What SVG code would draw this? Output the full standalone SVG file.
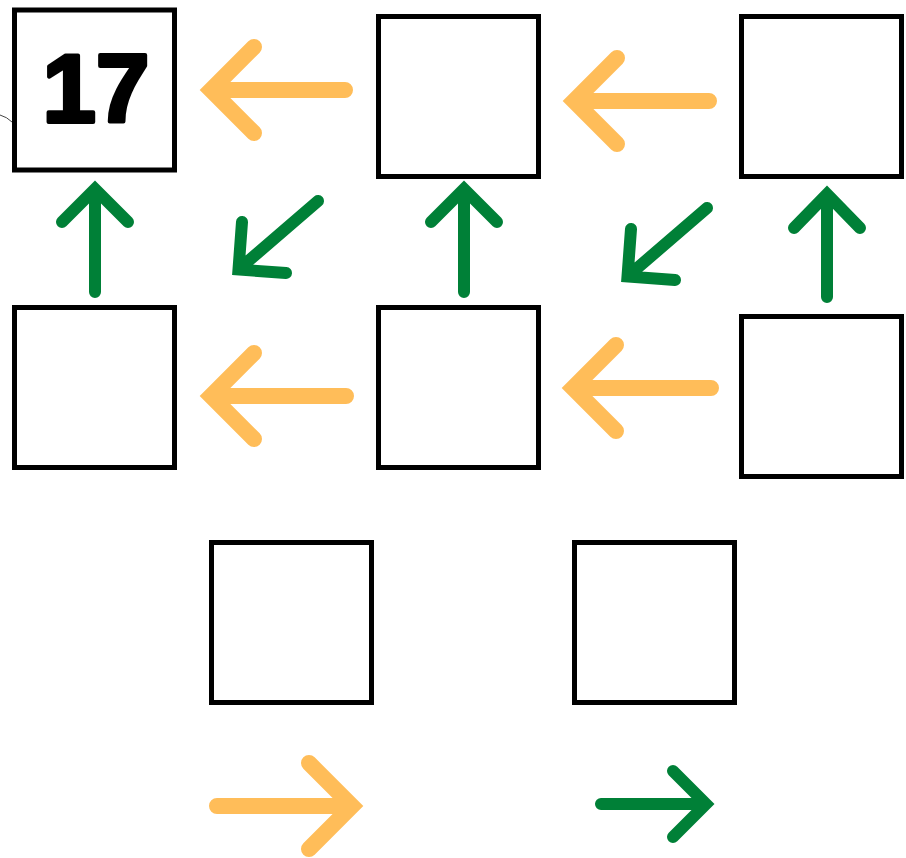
<svg xmlns="http://www.w3.org/2000/svg" width="906" height="858" viewBox="0 0 906 858">
<style>
.box{fill:#fff;stroke:#000;stroke-width:5}
.o{fill:none;stroke:#FFBD59;stroke-width:16;stroke-linecap:round;stroke-linejoin:miter}
.g{fill:none;stroke:#008037;stroke-width:12;stroke-linecap:round;stroke-linejoin:miter}
.num{font-family:"Liberation Sans",Arial,sans-serif;font-weight:bold;font-size:96px;fill:#000;stroke:#000;stroke-width:4;stroke-linejoin:round}
</style>
<rect width="906" height="858" fill="#fff"/>
<path d="M0,115 Q7,117 12,122" fill="none" stroke="#444" stroke-width="1"/>
<g id="box1"><rect class="box" x="14.5" y="10" width="160" height="160"/><text class="num" x="96" y="122" text-anchor="middle">17</text></g>
<g id="box2"><rect class="box" x="378.5" y="16.5" width="160" height="160"/></g>
<g id="box3"><rect class="box" x="741.5" y="16.5" width="160" height="160"/></g>
<g id="box4"><rect class="box" x="14.5" y="307.5" width="160" height="160"/></g>
<g id="box5"><rect class="box" x="378.5" y="307.5" width="160" height="160"/></g>
<g id="box6"><rect class="box" x="741.5" y="316.5" width="160" height="160"/></g>
<g id="box7"><rect class="box" x="211.5" y="542.5" width="160" height="160"/></g>
<g id="box8"><rect class="box" x="574.5" y="542.5" width="160" height="160"/></g>
<g id="connectors">
<path class="o" d="M345,90 H211 M254,47 L211,90 L254,133"/>
<path class="o" d="M709,101 H574 M617,58 L574,101 L617,144"/>
<path class="o" d="M346,396 H211 M254,353 L211,396 L254,439"/>
<path class="o" d="M711,388 H573 M616,345 L573,388 L616,431"/>
<path class="o" d="M217,806 H352 M309,763 L352,806 L309,849"/>
<path class="g" d="M95,292 V189 M62,222 L95,189 L128,222"/>
<path class="g" d="M464,292 V189 M431,222 L464,189 L497,222"/>
<path class="g" d="M827,297 V194 M794,228 L827,194 L860,228"/>
<path class="g" d="M318,201 L238.5,269.5 M242,222 L238.5,269.5 L286,273"/>
<path class="g" d="M707,208 L627.5,276.5 M631,229 L627.5,276.5 L675,280"/>
<path class="g" d="M601,804 H706 M673,771 L706,804 L673,837"/>
</g>
</svg>
